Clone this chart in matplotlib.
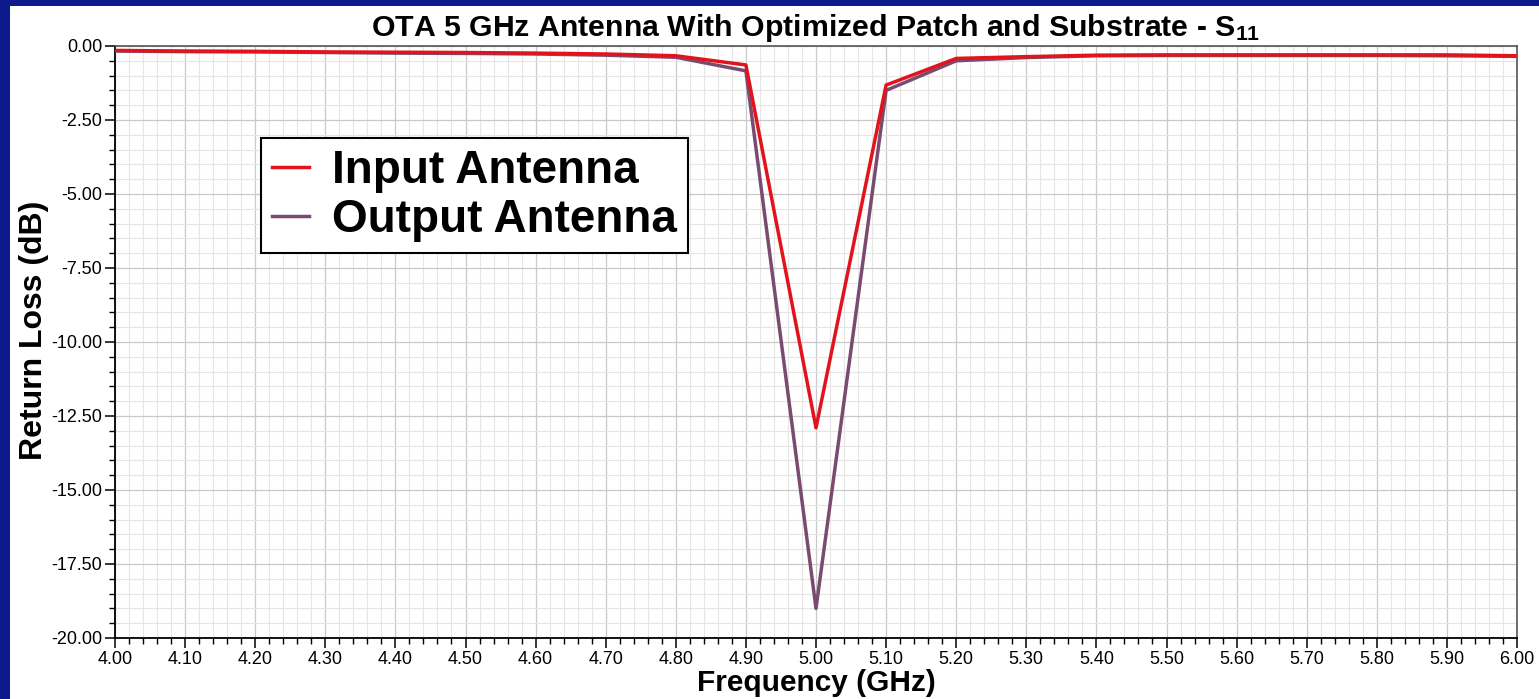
import matplotlib
matplotlib.use('Agg')
import matplotlib.pyplot as plt
from matplotlib.ticker import MultipleLocator, FormatStrFormatter

plt.rcParams['font.family'] = ['Liberation Sans', 'DejaVu Sans']
plt.rcParams['mathtext.fontset'] = 'custom'
plt.rcParams['mathtext.rm'] = 'Liberation Sans:bold'
plt.rcParams['mathtext.it'] = 'Liberation Sans:bold'
plt.rcParams['mathtext.bf'] = 'Liberation Sans:bold'

# frequency points (GHz)
freq = [4.0, 4.1, 4.2, 4.3, 4.4, 4.5, 4.6, 4.7, 4.8, 4.9, 5.0,
        5.1, 5.2, 5.3, 5.4, 5.5, 5.6, 5.7, 5.8, 5.9, 6.0]

# S11 of each antenna (dB)
s11_input = [-0.15, -0.17, -0.18, -0.20, -0.21, -0.22, -0.24, -0.27, -0.33, -0.64, -12.90,
             -1.32, -0.42, -0.36, -0.31, -0.30, -0.30, -0.30, -0.30, -0.30, -0.33]
s11_output = [-0.17, -0.19, -0.20, -0.22, -0.24, -0.25, -0.27, -0.31, -0.38, -0.84, -19.00,
              -1.50, -0.50, -0.39, -0.33, -0.32, -0.32, -0.32, -0.32, -0.33, -0.35]

fig = plt.figure(figsize=(15.39, 6.99), dpi=100)
fig.patch.set_facecolor('white')
# blue frame strips on the left and top
fig.patches.append(plt.Rectangle((0, 0), 10 / 1539, 1, transform=fig.transFigure,
                                 facecolor='#0c1a8e', edgecolor='none', zorder=0))
fig.patches.append(plt.Rectangle((0, 1 - 6 / 699), 1, 6 / 699, transform=fig.transFigure,
                                 facecolor='#0c1a8e', edgecolor='none', zorder=0))

ax = fig.add_axes([115 / 1539, 61 / 699, 1402 / 1539, 592 / 699])

ax.plot(freq, s11_output, color='#7a4b70', linewidth=2.5, label='Output Antenna', zorder=3)
ax.plot(freq, s11_input, color='#e3131b', linewidth=2.5, label='Input Antenna', zorder=4)

ax.set_xlim(4.0, 6.0)
ax.set_ylim(-20.0, 0.0)
ax.xaxis.set_major_locator(MultipleLocator(0.1))
ax.xaxis.set_minor_locator(MultipleLocator(0.02))
ax.yaxis.set_major_locator(MultipleLocator(2.5))
ax.yaxis.set_minor_locator(MultipleLocator(0.5))
ax.xaxis.set_major_formatter(FormatStrFormatter('%.2f'))
ax.yaxis.set_major_formatter(FormatStrFormatter('%.2f'))

ax.grid(which='major', color='#c9c9c9', linewidth=0.9)
ax.grid(which='minor', color='#e6e6e6', linewidth=0.8)
ax.set_axisbelow(True)

ax.tick_params(which='major', direction='out', length=7, width=1.1, labelsize=13, pad=2)
ax.tick_params(which='minor', direction='out', length=4, width=1.0)
for s in ['left', 'bottom']:
    ax.spines[s].set_color('black')
    ax.spines[s].set_linewidth(1.3)
for s in ['top', 'right']:
    ax.spines[s].set_color('#555555')
    ax.spines[s].set_linewidth(1.2)

ax.set_xlabel('Frequency (GHz)', fontsize=21.5, fontweight='bold', labelpad=1)
ax.set_ylabel('Return Loss (dB)', fontsize=23, fontweight='bold')
ax.yaxis.set_label_coords(-0.047, 0.52)
ax.set_title('OTA 5 GHz Antenna With Optimized Patch and Substrate - S$_{11}$',
             fontsize=21.8, fontweight='bold', pad=7)

handles, labels = ax.get_legend_handles_labels()
leg = ax.legend(handles[::-1], labels[::-1], loc='upper left', bbox_to_anchor=(0.104, 0.845),
                borderaxespad=0, fancybox=False, framealpha=1, edgecolor='black',
                prop={'size': 33, 'weight': 'bold'}, handlelength=0.8, handletextpad=0.5,
                borderpad=0.25, labelspacing=0.1)
leg.get_frame().set_linewidth(1.5)
for line in leg.get_lines():
    line.set_linewidth(2.5)

fig.savefig('out.png', dpi=100)
